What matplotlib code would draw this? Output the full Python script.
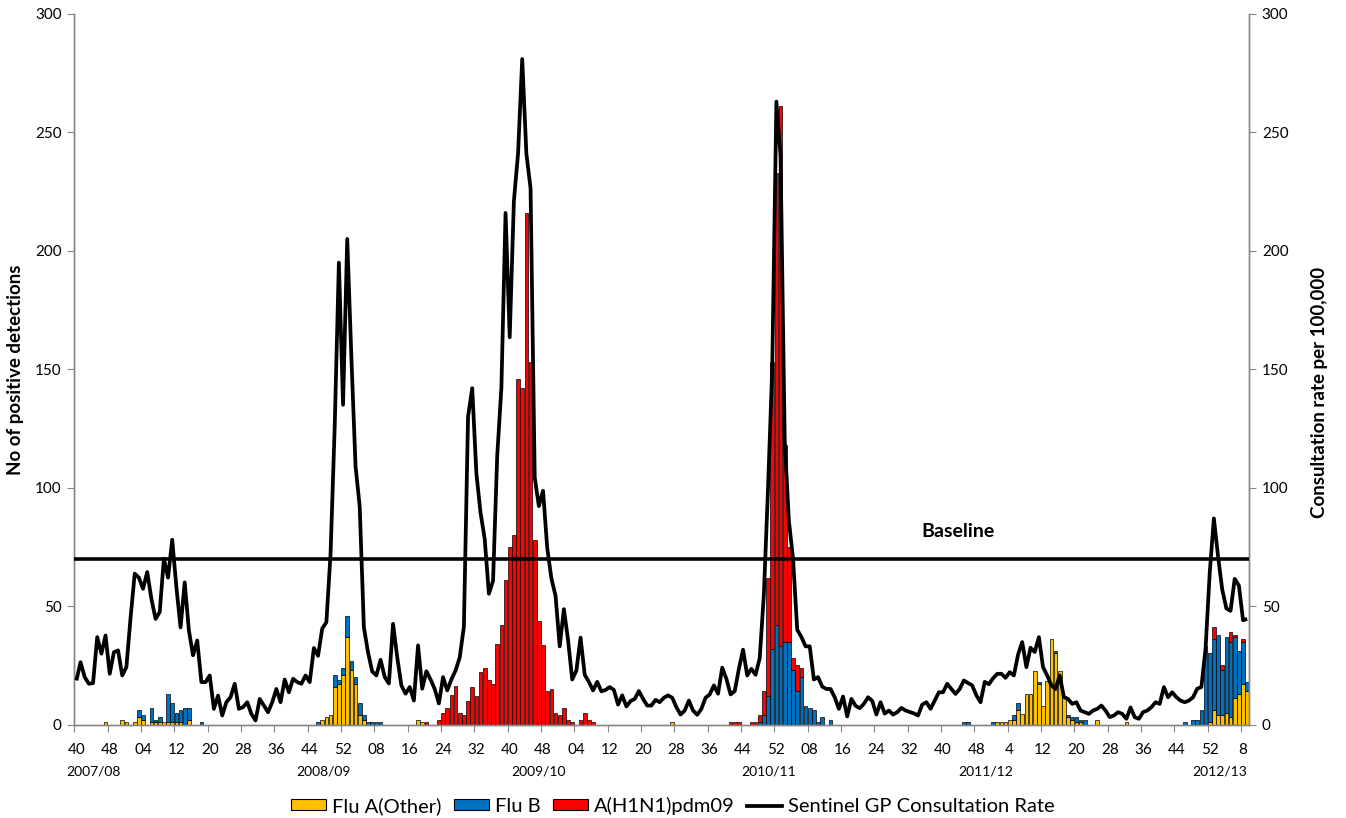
import matplotlib
matplotlib.use("Agg")
import matplotlib.pyplot as plt
import matplotlib.patches as mpatches
import matplotlib.transforms as mtransforms
from matplotlib.lines import Line2D
import numpy as np

plt.rcParams['font.family'] = ['Lato', 'DejaVu Sans']

# ---------------- categories (weeks, 52 per year as on the chart) ----------------
week_spans = [(2007, 40, 52), (2008, 1, 52), (2009, 1, 52), (2010, 1, 52),
              (2011, 1, 52), (2012, 1, 52), (2013, 1, 9)]
weeks = [f"{y}-{w:02d}" for y, a, b in week_spans for w in range(a, b + 1)]

tick_labels = ["40", "48", "04", "12", "20", "28", "36", "44", "52", "08", "16", "24",
               "32", "40", "48", "04", "12", "20", "28", "36", "44", "52", "08", "16",
               "24", "32", "40", "48", "4", "12", "20", "28", "36", "44", "52", "8"]
season_labels = ["2007/08", "2008/09", "2009/10", "2010/11", "2011/12", "2012/13"]
season_label_pos = [4.2, 59.2, 111.0, 166.2, 218.3, 274.4]

# ---------------- Sentinel GP consultation rate per 100,000 (weekly) ----------------
rate_2007_08 = [18.6, 26.3, 20, 17.2, 17.5, 36.9, 29.9, 37.6, 21.4, 30.5, 31.3, 20.7, 24.2,
                45, 63.7, 62, 57.3, 64.4, 53.1, 44.6, 47.5, 70, 62, 78, 58, 41, 60, 39.7,
                29.2, 35.5, 17.9, 17.9, 20.7, 6.6, 12.2, 3.8, 9.4, 11.5, 17.2, 6.6, 7.3, 9.4,
                4.5, 1.7, 10.8, 8, 5.2, 9.4, 15, 9.4, 19, 13.6]
rate_2008_09 = [19.3, 17.9, 17.2, 20.7, 17.9, 32.3, 29, 40.5, 43.2, 72, 126, 195, 135, 205,
                155, 109, 92, 41, 30.4, 22.4, 20.7, 27.3, 20.1, 17.3, 42.5, 28.4, 16.5, 13,
                15.8, 10.1, 33.4, 15.1, 22.5, 19, 15, 8.9, 20, 14.4, 19, 22.8, 28.3, 41.3,
                130, 142, 106, 89.4, 78.3, 55.2, 60.7, 113.5, 142.2, 216]
rate_2009_10 = [163.5, 221, 241, 281, 241, 226.5, 104.3, 92.2, 98.7, 74.6, 61.7, 54.3, 33,
                48.7, 35.7, 19, 22.8, 36.7, 21, 18, 14.4, 18, 14, 14.6, 15.8, 14.6, 8.4,
                12.3, 7.6, 9.9, 10.8, 14.1, 10.8, 8, 8, 10.4, 9.4, 11.3, 12.3, 11.3, 7.3,
                4.2, 5.9, 10.1, 5.9, 4.1, 6.6, 11.3, 12.7, 16.5, 13, 24]
rate_2010_11 = [19.3, 12.7, 14.1, 23.5, 31.6, 20.7, 23.5, 21, 28, 55, 100, 150, 263, 240,
                120, 86, 70, 40, 37, 33, 33, 19, 20, 16, 15, 15, 11.5, 6.6, 11.8, 3.4, 10.8,
                7.9, 6.9, 8.7, 11.5, 10, 4.2, 9.4, 4.6, 5.9, 4.2, 5.2, 7, 5.9, 5.3, 4.7, 3.8,
                8.4, 9.4, 6.6, 10.1, 13.6]
rate_2011_12 = [13.6, 17.2, 15, 12.9, 15, 18.6, 17.5, 16.5, 12.3, 9.4, 18, 17, 19.5, 21.4,
                21.4, 19.7, 22.1, 20.7, 29.5, 34.8, 24.2, 32.4, 30.6, 36.9, 24.2, 20.7, 16.5,
                15, 20.7, 11.6, 10.8, 8.7, 9.4, 5.9, 5.2, 4.5, 5.9, 6.6, 8, 5.9, 3.1, 3.8,
                5.2, 4.5, 2.4, 7.2, 3.1, 2.4, 5.2, 5.9, 7.3, 9.4]
rate_2012_13 = [8.7, 15.8, 11.5, 13.6, 11.5, 10.1, 9.4, 10.1, 11.5, 15.1, 15.8, 32, 64, 87,
                71, 57, 49, 48, 61.5, 58.7, 44, 44.6]
baseline = 70

# ---------------- positive detections per week (weeks not listed = 0) ----------------
flu_a_other = {
    "2007-47": 1, "2007-51": 2, "2007-52": 1, "2008-02": 1, "2008-03": 3, "2008-04": 2,
    "2008-06": 1, "2008-07": 1, "2008-08": 1, "2008-09": 1, "2008-10": 1, "2008-11": 1,
    "2008-12": 1, "2008-13": 1, "2008-15": 2,
    "2008-47": 2, "2008-48": 3, "2008-49": 4, "2008-50": 16, "2008-51": 17, "2008-52": 21,
    "2009-01": 37, "2009-02": 23, "2009-03": 17, "2009-04": 4, "2009-05": 2,
    "2009-18": 2, "2009-19": 1, "2010-27": 1,
    "2012-01": 1, "2012-02": 1, "2012-03": 1, "2012-04": 2, "2012-05": 2, "2012-06": 6,
    "2012-07": 4.5, "2012-08": 13, "2012-09": 13, "2012-10": 22.5, "2012-11": 17,
    "2012-12": 8, "2012-13": 18.5, "2012-14": 36, "2012-15": 30, "2012-16": 22.5,
    "2012-17": 12, "2012-18": 3, "2012-19": 2, "2012-20": 1, "2012-21": 1, "2012-25": 2,
    "2012-32": 1, "2012-52": 1,
    "2013-01": 6, "2013-02": 4, "2013-03": 4, "2013-04": 5, "2013-05": 3, "2013-06": 11,
    "2013-07": 13, "2013-08": 17, "2013-09": 14,
}
flu_b = {
    "2008-03": 3, "2008-04": 2, "2008-06": 6, "2008-07": 1, "2008-08": 2, "2008-10": 12,
    "2008-11": 8, "2008-12": 4, "2008-13": 5, "2008-14": 7, "2008-15": 5, "2008-18": 1,
    "2008-46": 1, "2008-50": 5, "2008-51": 2, "2008-52": 3, "2009-01": 9, "2009-02": 4,
    "2009-03": 3, "2009-04": 5, "2009-05": 2, "2009-06": 1, "2009-07": 1, "2009-08": 1,
    "2009-09": 1,
    "2010-48": 1, "2010-49": 4, "2010-50": 12, "2010-51": 32, "2010-52": 42, "2011-01": 33,
    "2011-02": 35, "2011-03": 35, "2011-04": 23, "2011-05": 14, "2011-06": 20, "2011-07": 8,
    "2011-08": 7, "2011-09": 6, "2011-10": 1, "2011-11": 3, "2011-13": 2,
    "2011-45": 1, "2011-46": 1, "2011-52": 1, "2012-05": 2, "2012-06": 3, "2012-11": 1,
    "2012-15": 1, "2012-18": 1, "2012-19": 1, "2012-20": 2, "2012-21": 1, "2012-22": 2,
    "2012-46": 1, "2012-48": 2, "2012-49": 2, "2012-50": 6, "2012-51": 33, "2012-52": 29,
    "2013-01": 30, "2013-02": 34, "2013-03": 19, "2013-04": 32, "2013-05": 32,
    "2013-06": 26, "2013-07": 18, "2013-08": 18, "2013-09": 4,
}
h1n1_pdm09 = {
    "2009-20": 1, "2009-23": 2, "2009-24": 5, "2009-25": 7, "2009-26": 12.6, "2009-27": 16.3,
    "2009-28": 5, "2009-29": 4, "2009-30": 10, "2009-31": 16, "2009-32": 12, "2009-33": 22,
    "2009-34": 24, "2009-35": 19, "2009-36": 17, "2009-37": 34, "2009-38": 42, "2009-39": 61,
    "2009-40": 75, "2009-41": 80, "2009-42": 146, "2009-43": 142, "2009-44": 216,
    "2009-45": 153, "2009-46": 78, "2009-47": 43.5, "2009-48": 33.5, "2009-49": 14,
    "2009-50": 15, "2009-51": 5, "2009-52": 4, "2010-01": 7, "2010-02": 2, "2010-03": 1,
    "2010-05": 2, "2010-06": 5, "2010-07": 2, "2010-08": 1,
    "2010-41": 1, "2010-42": 1, "2010-43": 1, "2010-46": 1, "2010-47": 1, "2010-48": 3,
    "2010-49": 10, "2010-50": 50, "2010-51": 121, "2010-52": 191, "2011-01": 228,
    "2011-02": 83, "2011-03": 40, "2011-04": 5, "2011-05": 11, "2011-06": 4,
    "2013-01": 5, "2013-03": 2, "2013-05": 4, "2013-06": 1, "2013-08": 1,
}

series_names = ["Flu A(Other)", "Flu B", "A(H1N1)pdm09", "Sentinel GP Consultation Rate"]
bar_colors = ["#FFC000", "#0070C0", "#FF0000"]

# ---------------- build ----------------
rate = np.array(rate_2007_08 + rate_2008_09 + rate_2009_10 + rate_2010_11 +
                rate_2011_12 + rate_2012_13, float)


def weekly(d):
    return np.array([d.get(w, 0.0) for w in weeks], float)


x = np.arange(len(weeks))
stack = [weekly(flu_a_other), weekly(flu_b), weekly(h1n1_pdm09)]

W, H = 1346, 818
fig = plt.figure(figsize=(W / 100, H / 100), dpi=100)
left_px, right_px, top_px, bottom_px = 74.3, 1249.3, 14.0, 724.5
ax = fig.add_axes([left_px / W, 1 - bottom_px / H, (right_px - left_px) / W,
                   (bottom_px - top_px) / H])

bottom = np.zeros(len(weeks))
for vals, col in zip(stack, bar_colors):
    m = vals > 0
    ax.bar(x[m], vals[m], bottom=bottom[m], width=0.9, color=col,
           edgecolor="black", linewidth=0.5, zorder=2)
    bottom = bottom + vals

ax2 = ax.twinx()
ax2.plot(x, rate, color="black", lw=2.7, solid_joinstyle="round",
         solid_capstyle="butt", zorder=3)
ax2.axhline(baseline, color="black", lw=2.6, zorder=3)
ax2.text(211.6, 81.5, "Baseline", ha="center", va="center", fontsize=14,
         fontweight="bold")

grey = "#868686"
for a in (ax, ax2):
    a.set_xlim(-0.5, len(weeks) - 0.5)
    a.set_ylim(0, 300)
    a.set_yticks(np.arange(0, 301, 50))
    a.spines["top"].set_visible(False)
    for s in ("left", "right", "bottom"):
        a.spines[s].set_color(grey)
        a.spines[s].set_linewidth(1.0)
    a.tick_params(axis="y", direction="out", length=5, color=grey,
                  labelsize=11, labelcolor="black", pad=4)

ax.set_xticks(np.arange(-0.5, len(weeks) - 1, 8))
ax.set_xticklabels([])
ax.tick_params(axis="x", which="major", direction="out", length=5, color=grey)
ax.set_xticks(np.arange(0, len(weeks), 8), minor=True)
ax.set_xticklabels(tick_labels, minor=True)
ax.tick_params(axis="x", which="minor", length=0, labelsize=11, pad=13)

trans = mtransforms.blended_transform_factory(ax.transData, ax.transAxes)
for lab, pos in zip(season_labels, season_label_pos):
    ax.text(pos, -0.066, lab, transform=trans, ha="center", va="center", fontsize=10)

fig.text(16 / W, 1 - 370 / H, "No of positive detections", rotation=90,
         ha="center", va="center", fontsize=13.5, fontweight="bold")
fig.text(1320 / W, 1 - 392 / H, "Consultation rate per 100,000", rotation=90,
         ha="center", va="center", fontsize=13.5, fontweight="bold")

handles = [mpatches.Patch(facecolor=c, edgecolor="black", linewidth=0.8) for c in bar_colors]
handles.append(Line2D([0], [0], color="black", lw=2.7))
fig.legend(handles, series_names, loc="center", bbox_to_anchor=(0.5, 1 - 806 / H),
           ncol=4, frameon=False, fontsize=14.5, handlelength=1.75, handleheight=0.45,
           handletextpad=0.3, columnspacing=0.6)

fig.savefig("out.png", dpi=100)
